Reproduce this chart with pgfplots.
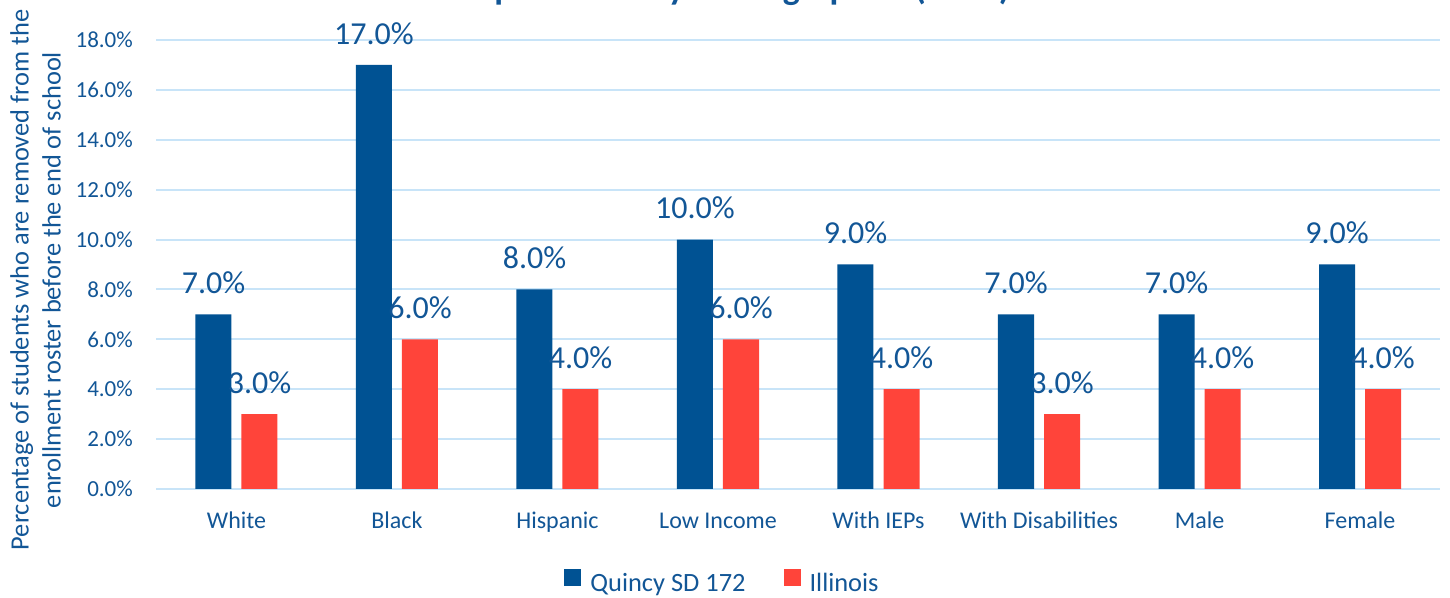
\documentclass[border=0pt]{standalone}
\usepackage{fontspec}
\setmainfont{Carlito}
\usepackage{pgfplots}
\pgfplotsset{compat=1.18}
\definecolor{qblue}{RGB}{0,82,147}
\definecolor{ired}{RGB}{255,68,58}
\definecolor{txt}{RGB}{18,86,150}
\definecolor{gridc}{RGB}{200,228,248}
\begin{document}
\begin{tikzpicture}
\begin{axis}[
  at={(0,0)}, anchor=south west,
  width=642pt, height=224.5pt, scale only axis,
  xmin=-0.5, xmax=7.5, ymin=0, ymax=18,
  ybar=5pt, bar width=18pt,
  /pgf/number format/assume math mode=true,
  xtick={0,...,7},
  xticklabels={White,Black,Hispanic,Low Income,With IEPs,With Disabilities,Male,Female},
  ytick={0,2,...,18},
  yticklabel={\pgfmathprintnumber[fixed,fixed zerofill,precision=1]{\tick}\%},
  axis line style={draw=none},
  tick style={draw=none},
  ymajorgrids, major grid style={gridc, line width=1pt},
  xticklabel style={font=\fontsize{12}{14}\selectfont, text=txt, anchor=base, yshift=-15.5pt},
  yticklabel style={font=\fontsize{11.5}{13}\selectfont, text=txt, anchor=east, inner xsep=0pt, xshift=-11.5pt},
  nodes near coords={\pgfmathprintnumber[fixed,fixed zerofill,precision=1]{\pgfplotspointmeta}\%},
  nodes near coords style={font=\fontsize{16}{19}\selectfont, text=txt, inner sep=0pt, yshift=10pt},
  legend style={at={(0.4418,-0.2116)}, anchor=center, draw=none, fill=none,
    legend columns=2, font=\fontsize{13.2}{15}\selectfont, text=txt,
    /tikz/every odd column/.append style={column sep=2.5pt},
    /tikz/every even column/.append style={column sep=17pt}},
  legend image code/.code={\fill[#1] (0pt,-1pt) rectangle (8.5pt,7.5pt);},
]
\addplot[fill=qblue, draw=none] coordinates {(0,7) (1,17) (2,8) (3,10) (4,9) (5,7) (6,7) (7,9)};
\addplot[fill=ired, draw=none] coordinates {(0,3) (1,6) (2,4) (3,6) (4,4) (5,3) (6,4) (7,4)};
\legend{Quincy SD 172, Illinois}
\end{axis}
\node[rotate=90, align=center, font=\fontsize{13.2}{16}\selectfont, text=txt] at (-60.4pt,104.5pt)
  {Percentage of students who are removed from the\\enrollment roster before the end of school};
\node[anchor=base, font=\bfseries\fontsize{18}{22}\selectfont, text=txt] at (284.4pt,244.5pt)
  {Dropout Rate by Demographics (2023)};
\pgfresetboundingbox
\useasboundingbox (-78.125pt,-54.5pt) rectangle (646.875pt,244.5pt);
\end{tikzpicture}
\end{document}
